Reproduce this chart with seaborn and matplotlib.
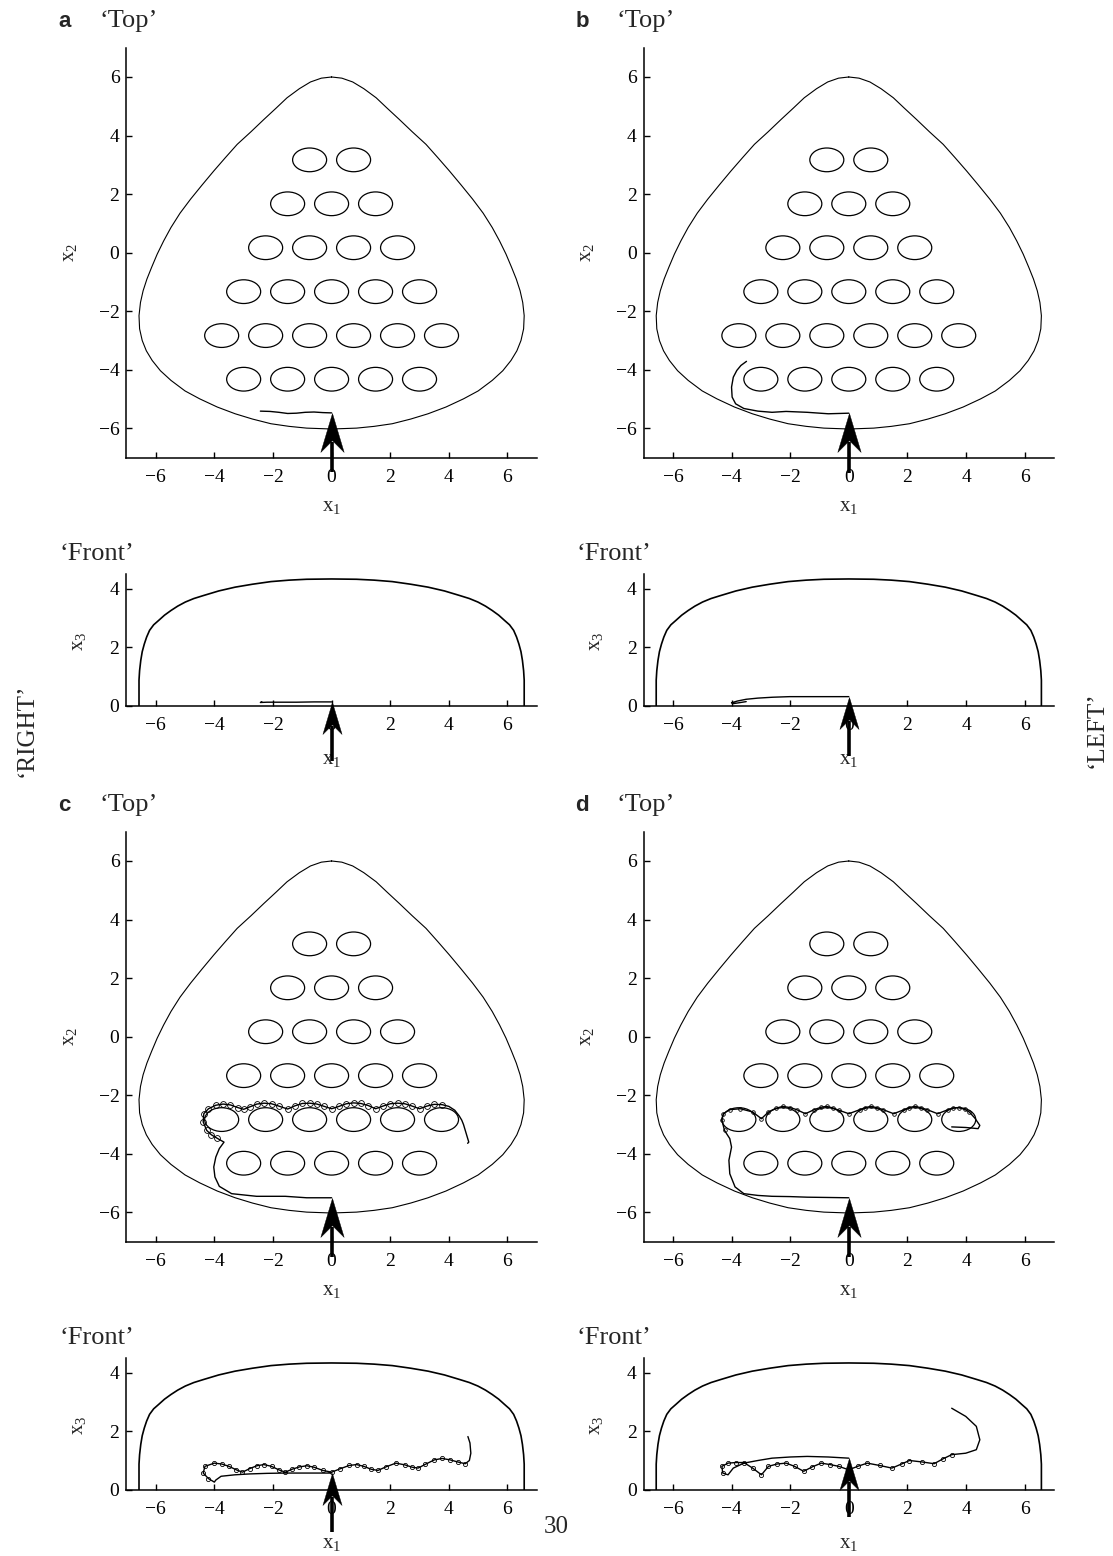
import matplotlib
matplotlib.use("Agg")
import matplotlib.pyplot as plt
import seaborn as sns
from matplotlib.patches import Ellipse
from matplotlib.path import Path
from matplotlib.markers import MarkerStyle

# ---------------------------------------------------------------- data
# container wall, top view (x1, x2): right half, top to bottom (mirrored for the left half)
wall_top_x1 = [0.0, 0.35, 0.72, 1.1, 1.52, 1.9, 2.31, 2.75, 3.22, 3.62, 4.02, 4.42, 4.81,
               5.17, 5.48, 5.73, 5.95, 6.14, 6.3, 6.43, 6.52, 6.57, 6.55, 6.46, 6.32, 6.12,
               5.84, 5.48, 5.0, 4.5, 3.9, 3.29, 2.7, 2.07, 1.45, 0.85, 0.0]
wall_top_x2 = [6.0, 5.96, 5.83, 5.6, 5.29, 4.93, 4.55, 4.13, 3.7, 3.25, 2.79, 2.31, 1.83,
               1.35, 0.86, 0.4, -0.05, -0.5, -0.9, -1.3, -1.7, -2.15, -2.6, -3.0, -3.35,
               -3.68, -4.03, -4.36, -4.72, -4.99, -5.27, -5.5, -5.68, -5.84, -5.93, -5.99,
               -6.02]

# container wall, front view (x1, x3): right half, floor to roof
wall_front_x1 = [6.57, 6.57, 6.55, 6.51, 6.46, 6.39, 6.31, 6.21, 6.07, 5.9, 5.7, 5.48, 5.25,
                 4.99, 4.7, 4.38, 3.85, 3.29, 2.7, 2.07, 1.45, 0.85, 0.0]
wall_front_x3 = [0.0, 0.875, 1.2, 1.55, 1.85, 2.11, 2.35, 2.58, 2.77, 2.92, 3.1, 3.26, 3.41,
                 3.55, 3.67, 3.77, 3.93, 4.06, 4.16, 4.25, 4.3, 4.33, 4.34]

# obstacle rows (top view)
row_x2 = [3.17, 1.67, 0.17, -1.33, -2.83, -4.32]
row_x1 = [[-0.75, 0.75],
          [-1.5, 0.0, 1.5],
          [-2.25, -0.75, 0.75, 2.25],
          [-3.0, -1.5, 0.0, 1.5, 3.0],
          [-3.75, -2.25, -0.75, 0.75, 2.25, 3.75],
          [-3.0, -1.5, 0.0, 1.5, 3.0]]
obstacle_w = 1.16
obstacle_h = 0.81

# trajectories -- panel a
a_top_x1 = [0.0, -0.3, -0.6, -0.9, -1.2, -1.5, -1.8, -2.1, -2.43]
a_top_x2 = [-5.47, -5.46, -5.44, -5.45, -5.48, -5.49, -5.45, -5.42, -5.41]
a_front_x1 = [0.0, -0.6, -1.2, -1.8, -2.2, -2.43, -2.38]
a_front_x3 = [0.13, 0.13, 0.12, 0.12, 0.12, 0.11, 0.13]

# panel b
b_top_x1 = [0.0, -0.7, -1.42, -2.14, -2.62, -3.1, -3.58, -3.86, -3.98, -4.0, -3.94, -3.82,
            -3.68, -3.49]
b_top_x2 = [-5.48, -5.5, -5.45, -5.42, -5.45, -5.41, -5.32, -5.16, -4.93, -4.59, -4.25, -4.02,
            -3.85, -3.71]
b_front_x1 = [0.0, -1.0, -2.02, -2.6, -3.1, -3.5, -3.8, -4.0, -3.95, -3.75, -3.5]
b_front_x3 = [0.31, 0.31, 0.31, 0.29, 0.26, 0.22, 0.16, 0.1, 0.07, 0.1, 0.14]

# panel c
c_top_x1 = [0.0, -0.85, -1.58, -2.56, -3.41, -3.83, -3.98, -4.02, -3.95, -3.83, -3.67,
            -3.9, -4.1, -4.26, -4.38, -4.36, -4.2, -3.95, -3.7, -3.45, -3.2, -3.0, -2.8,
            -2.55, -2.3, -2.05, -1.8, -1.5, -1.25, -1.0, -0.75, -0.5, -0.25, 0.0, 0.25, 0.5,
            0.75, 1.0, 1.25, 1.5, 1.75, 2.0, 2.25, 2.5, 2.75, 3.0, 3.25, 3.5, 3.77, 4.0,
            4.2, 4.35, 4.44, 4.5, 4.56, 4.62, 4.68, 4.64]
c_top_x2 = [-5.5, -5.5, -5.45, -5.45, -5.36, -5.11, -4.79, -4.45, -4.11, -3.82, -3.6,
            -3.47, -3.35, -3.2, -2.91, -2.63, -2.46, -2.34, -2.3, -2.33, -2.42, -2.48, -2.4,
            -2.3, -2.27, -2.29, -2.37, -2.47, -2.36, -2.28, -2.27, -2.3, -2.38, -2.46, -2.38,
            -2.29, -2.26, -2.28, -2.35, -2.46, -2.37, -2.29, -2.27, -2.29, -2.37, -2.46,
            -2.37, -2.31, -2.32, -2.38, -2.51, -2.7, -2.85, -3.0, -3.2, -3.4, -3.6, -3.64]
c_front_x1 = [0.0, -0.8, -1.58, -2.2, -2.8, -3.3, -3.77, -3.95, -4.0, -4.2, -4.38, -4.32,
              -4.0, -3.75, -3.5, -3.25, -3.04, -2.8, -2.55, -2.31, -2.05, -1.8, -1.58, -1.35,
              -1.1, -0.85, -0.6, -0.3, 0.0, 0.3, 0.6, 0.85, 1.1, 1.35, 1.58, 1.85, 2.19, 2.5,
              2.75, 2.95, 3.2, 3.5, 3.77, 4.05, 4.3, 4.56, 4.7, 4.75, 4.72, 4.65]
c_front_x3 = [0.57, 0.57, 0.57, 0.56, 0.54, 0.51, 0.46, 0.33, 0.26, 0.38, 0.57, 0.8,
              0.91, 0.88, 0.8, 0.68, 0.6, 0.72, 0.82, 0.86, 0.8, 0.68, 0.6, 0.7, 0.78, 0.82,
              0.77, 0.66, 0.6, 0.72, 0.83, 0.86, 0.8, 0.7, 0.66, 0.78, 0.91, 0.85, 0.77, 0.74,
              0.87, 1.02, 1.07, 1.02, 0.95, 0.89, 1.0, 1.25, 1.6, 1.82]

# panel d
d_top_x1 = [0.0, -0.7, -1.42, -2.0, -2.62, -3.1, -3.58, -3.88, -4.06, -4.09, -4.0, -4.06,
            -4.24, -4.33, -4.28, -4.06, -3.7, -3.28, -2.98, -2.74, -2.5, -2.26, -2.0, -1.78,
            -1.48, -1.18, -0.95, -0.76, -0.55, -0.34, 0.0, 0.38, 0.56, 0.75, 0.95, 1.17,
            1.53, 1.89, 2.05, 2.25, 2.45, 2.67, 3.03, 3.39, 3.55, 3.75, 3.95, 4.11, 4.3,
            4.47, 4.41, 3.99, 3.51]
d_top_x2 = [-5.5, -5.49, -5.48, -5.46, -5.45, -5.42, -5.36, -5.13, -4.68, -4.22, -3.77,
            -3.48, -3.2, -2.85, -2.63, -2.49, -2.46, -2.57, -2.8, -2.57, -2.45, -2.38, -2.42,
            -2.49, -2.63, -2.49, -2.41, -2.38, -2.43, -2.51, -2.63, -2.49, -2.42, -2.38,
            -2.42, -2.49, -2.63, -2.49, -2.42, -2.38, -2.42, -2.49, -2.63, -2.49, -2.43,
            -2.42, -2.48, -2.57, -2.78, -3.03, -3.14, -3.1, -3.08]
d_front_x1 = [0.0, -0.7, -1.42, -2.0, -2.62, -3.1, -3.58, -3.94, -4.12, -4.3, -4.33, -4.12,
              -3.85, -3.58, -3.28, -2.98, -2.74, -2.45, -2.14, -1.85, -1.54, -1.25, -0.94,
              -0.64, -0.34, 0.0, 0.3, 0.63, 1.05, 1.47, 1.8, 2.07, 2.5, 2.91, 3.2, 3.51,
              3.99, 4.35, 4.47, 4.35, 3.99, 3.51]
d_front_x3 = [1.08, 1.12, 1.14, 1.12, 1.08, 1.0, 0.91, 0.74, 0.51, 0.57, 0.8, 0.91, 0.93,
              0.93, 0.74, 0.51, 0.8, 0.88, 0.91, 0.8, 0.63, 0.78, 0.91, 0.86, 0.8, 0.68,
              0.8, 0.91, 0.83, 0.74, 0.88, 1.0, 0.95, 0.89, 1.05, 1.2, 1.25, 1.37, 1.71,
              2.17, 2.51, 2.79]

# index ranges where the path winds in small loops
c_top_loops = (11, 49)
c_front_loops = (9, 46)
d_top_loops = (12, 48)
d_front_loops = (9, 36)

ticks_x1 = [-6, -4, -2, 0, 2, 4, 6]
ticks_x2 = [-6, -4, -2, 0, 2, 4, 6]
ticks_x3 = [0, 2, 4]

panels = [
    ("a", a_top_x1, a_top_x2, a_front_x1, a_front_x3, None, None),
    ("b", b_top_x1, b_top_x2, b_front_x1, b_front_x3, None, None),
    ("c", c_top_x1, c_top_x2, c_front_x1, c_front_x3, c_top_loops, c_front_loops),
    ("d", d_top_x1, d_top_x2, d_front_x1, d_front_x3, d_top_loops, d_front_loops),
]

# ---------------------------------------------------------------- style
sns.set_theme(style="ticks")
plt.rcParams["font.family"] = ["Liberation Serif", "DejaVu Serif"]
plt.rcParams["mathtext.fontset"] = "custom"
plt.rcParams["mathtext.rm"] = "Liberation Serif"
plt.rcParams["axes.linewidth"] = 1.1
plt.rcParams["axes.edgecolor"] = "black"

W, H = 1113, 1556
fig = plt.figure(figsize=(W / 100, H / 100), dpi=100)
fig.patch.set_facecolor("white")


def add_axes_px(left, top, width, height):
    return fig.add_axes([left / W, 1 - (top + height) / H, width / W, height / H])


# stealth-style arrow head, tip at the marker origin
head_path = Path([(0, 0), (0.3, -1.0), (0, -0.7), (-0.3, -1.0), (0, 0)],
                 [Path.MOVETO, Path.LINETO, Path.LINETO, Path.LINETO, Path.CLOSEPOLY])
head_marker = MarkerStyle(head_path)


def start_arrow(ax, x0, y0, head_ms, head_len_units):
    ax.plot([x0, x0], [y0 - 2.03, y0 - 0.75 * head_len_units], color="black", lw=2.6,
            solid_capstyle="butt", clip_on=False, zorder=6)
    ax.plot([x0], [y0], ls="none", marker=head_marker, ms=head_ms, mfc="black", mec="black",
            mew=0.3, clip_on=False, zorder=7)


def style_axes(ax, yticks):
    sns.despine(ax=ax)
    ax.set_facecolor("white")
    ax.grid(False)
    ax.set_xticks(ticks_x1)
    ax.set_yticks(yticks)
    ax.tick_params(direction="in", length=4, width=1.0, labelsize=14, colors="black")
    ax.tick_params(axis="x", pad=8)
    ax.tick_params(axis="y", pad=5)


def trace(ax, xs, ys, loops, ms):
    sns.lineplot(x=xs, y=ys, sort=False, estimator=None, color="black", lw=1.0, ax=ax,
                 zorder=4)
    if loops is not None:
        i, j = loops
        ax.plot(xs[i:j], ys[i:j], ls="none", marker="o", ms=ms, mfc="none", mec="black",
                mew=0.6, zorder=4)


col_left = [126.4, 643.6]
row_top = [47.7, 831.7]
ax_w = 410.4
top_h = 410.0
front_gap_top = 526.6   # offset from top-view top to front-view top
front_h = 131.4

wall_x = wall_top_x1 + [-v for v in wall_top_x1[::-1]]
wall_y = wall_top_x2 + wall_top_x2[::-1]
front_x = wall_front_x1 + [-v for v in wall_front_x1[::-1]]
front_z = wall_front_x3 + wall_front_x3[::-1]

for k, (letter, tx, ty, fxs, fzs, tloops, floops) in enumerate(panels):
    left = col_left[k % 2]
    top = row_top[k // 2]
    dx = left - 126.4

    # ---- top view
    ax = add_axes_px(left, top, ax_w, top_h)
    sns.lineplot(x=wall_x, y=wall_y, sort=False, estimator=None, color="black", lw=0.8, ax=ax)
    for yc, xs in zip(row_x2, row_x1):
        for xc in xs:
            ax.add_patch(Ellipse((xc, yc), obstacle_w, obstacle_h, fill=False,
                                 edgecolor="black", lw=0.9))
    trace(ax, tx, ty, tloops, 4.2 if letter == "c" else 2.6)
    ax.set_xlim(-7, 7)
    ax.set_ylim(-7, 7)
    style_axes(ax, ticks_x2)
    ax.set_xlabel(r"$\mathregular{x_1}$", fontsize=15)
    ax.set_ylabel(r"$\mathregular{x_2}$", fontsize=15)
    ax.xaxis.label.set_va("center")
    ax.yaxis.label.set_va("center")
    ax.xaxis.set_label_coords(0.5, -0.118)
    ax.yaxis.set_label_coords(-0.138, 0.5)
    start_arrow(ax, tx[0], ty[0], 56, 39 / 29.35)

    # ---- front view
    axf = add_axes_px(left, top + front_gap_top, ax_w, front_h)
    sns.lineplot(x=front_x, y=front_z, sort=False, estimator=None, color="black", lw=1.2,
                 ax=axf)
    trace(axf, fxs, fzs, floops, 3.0)
    axf.set_xlim(-7, 7)
    axf.set_ylim(0, 4.5)
    style_axes(axf, ticks_x3)
    axf.set_xlabel(r"$\mathregular{x_1}$", fontsize=15)
    axf.set_ylabel(r"$\mathregular{x_3}$", fontsize=15)
    axf.xaxis.label.set_va("center")
    axf.yaxis.label.set_va("center")
    axf.xaxis.set_label_coords(0.5, -0.413)
    axf.yaxis.set_label_coords(-0.1165, 0.487)
    start_arrow(axf, fxs[0], fzs[0], 46, 32 / 29.35)

    # ---- panel titles
    fig.text((58 + dx) / W, 1 - (top - 21) / H, letter, fontfamily="Liberation Sans",
             fontweight="bold", fontsize=16, ha="left", va="baseline")
    fig.text((99.3 + dx) / W, 1 - (top - 21) / H, "\u2018Top\u2019", fontsize=19,
             ha="left", va="baseline")
    fig.text((59 + dx) / W, 1 - (top + 512) / H, "\u2018Front\u2019", fontsize=19,
             ha="left", va="baseline")

fig.text(27 / W, 1 - 730 / H, "\u2018RIGHT\u2019", rotation=90, fontsize=18, ha="center",
         va="center")
fig.text(1097 / W, 1 - 730 / H, "\u2018LEFT\u2019", rotation=90, fontsize=18, ha="center",
         va="center")
fig.text(556 / W, 1 - 1527 / H, "30", fontsize=18, ha="center", va="center")

fig.savefig("out.png", dpi=100, facecolor="white")
